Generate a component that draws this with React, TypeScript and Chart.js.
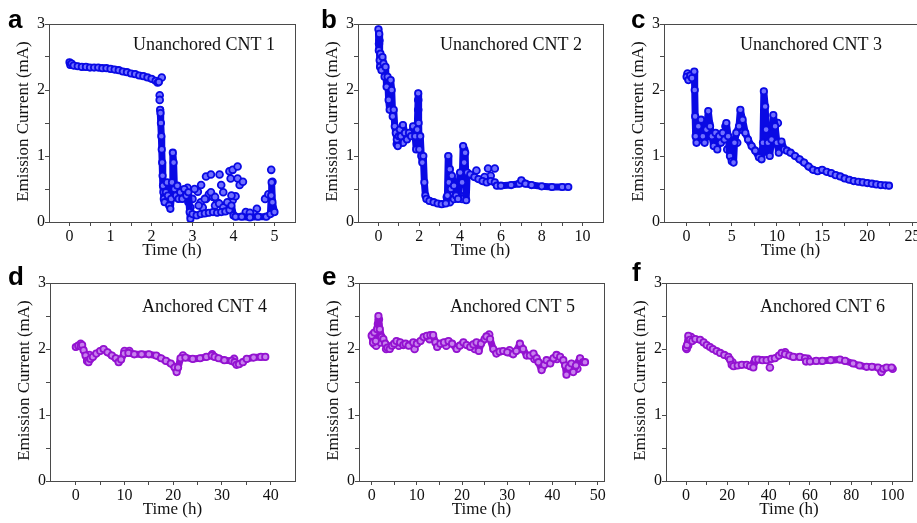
import React, { useEffect, useRef } from "react";
import { Chart, registerables } from "chart.js";

Chart.register(...registerables);

// ---------------- Data (time in h, emission current in mA) ----------------
// Panel a – Unanchored CNT 1
const timeA1 = [0, 0.02, 0.05, 0.1, 0.2, 0.3, 0.4, 0.5, 0.6, 0.7, 0.8, 0.9, 1.0, 1.1, 1.2, 1.3, 1.4, 1.5, 1.6, 1.7, 1.8, 1.9, 2.0, 2.1, 2.15, 2.18];
const currentA1 = [2.42, 2.38, 2.40, 2.37, 2.36, 2.35, 2.35, 2.34, 2.34, 2.34, 2.33, 2.33, 2.32, 2.31, 2.30, 2.28, 2.27, 2.25, 2.24, 2.22, 2.21, 2.19, 2.17, 2.14, 2.11, 2.12];
const timeA2 = [2.21, 2.22, 2.23, 2.24, 2.25, 2.26, 2.27, 2.28, 2.29, 2.3, 2.32, 2.35, 2.38, 2.4, 2.43, 2.46, 2.48, 2.5, 2.52, 2.54, 2.56, 2.6, 2.63, 2.66, 2.7, 2.75, 2.8, 2.85, 2.9, 2.93, 2.95, 3.0, 3.1, 3.2, 3.3, 3.4, 3.5, 3.6, 3.7, 3.8, 3.9, 3.95, 4.0, 4.05, 4.2, 4.4, 4.6, 4.8, 4.9, 4.92, 4.93, 4.95, 5.0];
const currentA2 = [1.70, 1.65, 1.50, 1.30, 1.10, 0.90, 0.70, 0.55, 0.45, 0.35, 0.30, 0.45, 0.60, 0.40, 0.25, 0.20, 0.35, 0.60, 1.05, 0.90, 0.50, 0.40, 0.55, 0.35, 0.45, 0.35, 0.50, 0.40, 0.45, 0.15, 0.05, 0.12, 0.10, 0.12, 0.13, 0.14, 0.15, 0.14, 0.15, 0.16, 0.18, 0.25, 0.10, 0.08, 0.08, 0.07, 0.08, 0.08, 0.12, 0.40, 0.60, 0.30, 0.15];
const extraTimeA = [2.25, 2.2, 2.2, 3.13, 3.21, 3.33, 3.45, 3.33, 3.4, 3.5, 3.6, 3.66, 3.7, 3.55, 3.9, 3.93, 3.98, 3.98, 4.1, 4.1, 4.15, 4.23, 4.05, 4.57, 4.77, 4.85, 4.92, 4.95, 3.2, 3.25, 3.75, 3.8, 3.05, 3.0, 4.3, 4.5, 4.4, 3.15, 3.3, 3.45, 3.55, 3.65, 3.75, 3.85, 3.95, 2.9, 2.95, 2.88];
const extraCurrentA = [2.19, 1.92, 1.85, 0.46, 0.56, 0.69, 0.72, 0.35, 0.42, 0.38, 0.30, 0.72, 0.56, 0.25, 0.77, 0.66, 0.79, 0.33, 0.84, 0.66, 0.56, 0.61, 0.39, 0.20, 0.35, 0.42, 0.79, 0.61, 0.30, 0.22, 0.45, 0.25, 0.50, 0.35, 0.15, 0.12, 0.14, 0.25, 0.35, 0.45, 0.38, 0.28, 0.22, 0.30, 0.40, 0.30, 0.22, 0.52];

// Panel b – Unanchored CNT 2
const timeB = [0, 0.02, 0.04, 0.06, 0.08, 0.1, 0.15, 0.2, 0.25, 0.3, 0.35, 0.4, 0.45, 0.5, 0.55, 0.6, 0.65, 0.7, 0.75, 0.8, 0.85, 0.9, 0.95, 1.0, 1.05, 1.1, 1.2, 1.3, 1.4, 1.5, 1.6, 1.7, 1.8, 1.85, 1.9, 1.95, 1.97, 2.0, 2.05, 2.1, 2.15, 2.2, 2.25, 2.3, 2.35, 2.5, 2.7, 2.9, 3.1, 3.3, 3.38, 3.42, 3.45, 3.5, 3.55, 3.6, 3.7, 3.8, 3.9, 4.0, 4.1, 4.15, 4.2, 4.25, 4.3, 4.35, 4.5, 4.7, 4.9, 5.1, 5.3, 5.5, 5.7, 5.8, 6.0, 6.5, 6.9, 7.0, 7.2, 7.5, 8.0, 8.5, 9.0, 9.3];
const currentB = [2.92, 2.6, 2.85, 2.45, 2.35, 2.55, 2.3, 2.5, 2.4, 2.2, 2.35, 2.05, 2.2, 1.85, 1.7, 2.15, 2.0, 1.6, 1.7, 1.45, 1.35, 1.25, 1.15, 1.3, 1.4, 1.3, 1.47, 1.35, 1.25, 1.35, 1.3, 1.45, 1.3, 1.1, 1.4, 1.95, 1.5, 1.1, 1.3, 1.0, 0.9, 1.0, 0.6, 0.4, 0.35, 0.32, 0.30, 0.28, 0.27, 0.28, 0.4, 1.0, 0.6, 0.8, 0.5, 0.7, 0.55, 0.4, 0.35, 0.75, 0.6, 1.15, 0.9, 1.05, 0.33, 0.75, 0.72, 0.68, 0.65, 0.62, 0.6, 0.62, 0.6, 0.55, 0.55, 0.56, 0.58, 0.63, 0.58, 0.56, 0.54, 0.53, 0.53, 0.53];
const extraTimeB = [5.37, 5.7, 4.8, 3.35, 4.0, 4.1, 0.05, 0.03, 1.95, 1.95, 4.2, 4.22, 1.2, 0.9, 3.5, 3.7, 3.6, 5.5, 5.2];
const extraCurrentB = [0.81, 0.81, 0.78, 0.38, 0.4, 0.35, 2.75, 2.7, 1.85, 1.7, 1.1, 1.05, 1.2, 1.18, 0.3, 0.35, 0.45, 0.7, 0.68];

// Panel c – Unanchored CNT 3
const timeC = [0, 0.2, 0.4, 0.6, 0.85, 0.9, 0.95, 1.0, 1.1, 1.3, 1.6, 1.8, 2.0, 2.2, 2.4, 2.6, 2.8, 3.0, 3.2, 3.4, 3.6, 3.8, 4.0, 4.2, 4.4, 4.6, 4.8, 5.0, 5.2, 5.3, 5.5, 5.8, 5.95, 6.2, 6.5, 6.8, 7.2, 7.6, 8.0, 8.3, 8.45, 8.55, 8.7, 8.8, 9.0, 9.2, 9.4, 9.6, 9.8, 10.0, 10.2, 10.5, 10.8, 11.1, 11.5, 12.0, 12.5, 13.0, 13.5, 14.0, 14.5, 15.0, 15.5, 16.0, 16.5, 17.0, 17.5, 18.0, 18.5, 19.0, 19.5, 20.0, 20.5, 21.0, 21.5, 22.0, 22.4];
const currentC = [2.2, 2.15, 2.22, 2.18, 2.28, 2.0, 1.6, 1.3, 1.2, 1.45, 1.55, 1.3, 1.2, 1.4, 1.68, 1.45, 1.3, 1.15, 1.35, 1.1, 1.3, 1.2, 1.35, 1.25, 1.5, 1.3, 1.0, 0.92, 0.9, 1.2, 1.35, 1.45, 1.7, 1.55, 1.35, 1.25, 1.15, 1.08, 0.98, 0.95, 1.2, 1.98, 1.75, 1.4, 1.2, 1.0, 1.25, 1.62, 1.45, 1.2, 1.05, 1.22, 1.1, 1.08, 1.05, 1.0, 0.95, 0.9, 0.84, 0.79, 0.77, 0.79, 0.76, 0.74, 0.71, 0.69, 0.66, 0.64, 0.62, 0.61, 0.6, 0.59, 0.58, 0.57, 0.56, 0.555, 0.55];
const extraTimeC = [1.2, 1.5, 2.5, 3.0, 3.5, 4.5, 5.0, 5.6, 6.1, 8.6, 8.65, 9.1, 9.7, 10.1, 0.1, 0.3, 8.4, 4.3, 2.3];
const extraCurrentC = [1.35, 1.25, 1.5, 1.3, 1.25, 1.1, 1.1, 1.2, 1.4, 1.5, 1.3, 1.35, 1.3, 1.5, 2.25, 2.2, 1.05, 1.45, 1.3];

// Panel d – Anchored CNT 4
const timeD = [0, 0.5, 1.0, 1.3, 1.6, 2.0, 2.3, 2.6, 3.0, 3.5, 4.2, 5.0, 5.7, 6.5, 7.4, 8.2, 8.8, 9.3, 9.9, 10.8, 12, 13.5, 15, 16.5, 17.5, 18.5, 19.5, 20.3, 20.7, 21.0, 21.5, 22.5, 24, 25.5, 26.8, 27.9, 28.5, 29.3, 30.5, 32.0, 32.6, 33.0, 33.5, 34.3, 35.1, 36.5, 38, 38.9];
const currentD = [2.03, 2.05, 2.04, 2.06, 1.98, 1.9, 1.82, 1.8, 1.85, 1.88, 1.93, 1.97, 2.0, 1.95, 1.9, 1.86, 1.8, 1.84, 1.93, 1.94, 1.92, 1.92, 1.92, 1.9, 1.86, 1.82, 1.78, 1.72, 1.65, 1.72, 1.86, 1.87, 1.85, 1.86, 1.88, 1.9, 1.88, 1.86, 1.83, 1.82, 1.8, 1.76, 1.77, 1.8, 1.85, 1.87, 1.88, 1.88];
const extraTimeD = [1.0, 2.8, 10.0, 11.0, 22.0, 28.0, 32.5];
const extraCurrentD = [2.08, 1.91, 1.97, 1.97, 1.9, 1.92, 1.85];

// Panel e – Anchored CNT 5
const timeE = [0, 0.3, 0.6, 0.9, 1.2, 1.5, 1.8, 2.2, 2.6, 3.0, 3.5, 4.0, 4.5, 5.0, 5.5, 6.3, 7.0, 7.5, 8.2, 9.2, 10, 10.8, 11.5, 12.2, 13.0, 13.6, 14.1, 14.5, 15.2, 16.0, 17.0, 17.8, 18.8, 19.5, 20.3, 21.0, 21.8, 22.5, 23.2, 23.7, 24.2, 25.0, 25.4, 26.2, 26.9, 27.6, 28.3, 29.1, 30.0, 31.3, 32.0, 32.8, 33.5, 34.3, 35.0, 35.8, 36.5, 36.9, 37.6, 38.2, 38.7, 39.5, 40.2, 40.9, 41.7, 42.4, 42.8, 43.1, 43.6, 44.2, 44.6, 45.2, 46.1, 46.8, 47.2];
const currentE = [2.2, 2.1, 2.25, 2.12, 2.3, 2.5, 2.3, 2.18, 2.15, 2.08, 2.02, 2.0, 2.05, 2.08, 2.12, 2.1, 2.06, 2.08, 2.05, 2.1, 2.08, 2.12, 2.18, 2.2, 2.21, 2.21, 2.1, 2.03, 2.08, 2.1, 2.12, 2.08, 2.0, 2.05, 2.1, 2.06, 2.03, 2.07, 2.1, 1.97, 2.08, 2.15, 2.19, 2.15, 2.0, 1.93, 1.96, 1.97, 1.95, 1.92, 1.97, 2.08, 2.0, 1.9, 1.9, 1.93, 1.86, 1.8, 1.68, 1.76, 1.83, 1.78, 1.86, 1.91, 1.88, 1.83, 1.75, 1.61, 1.72, 1.78, 1.65, 1.75, 1.86, 1.8, 1.8];
const extraTimeE = [0.2, 0.5, 0.8, 1.0, 1.4, 1.6, 2.0, 3.2, 6.0, 9.5, 12.8, 16.5, 22.8, 26.0, 30.5, 33.0, 36.0, 41.0, 45.5];
const extraCurrentE = [2.22, 2.08, 2.2, 2.05, 2.38, 2.45, 2.1, 2.0, 2.05, 2.0, 2.15, 2.05, 2.0, 2.22, 1.98, 2.0, 1.85, 1.85, 1.7];

// Panel f – Anchored CNT 6
const timeF = [0, 0.5, 1.1, 1.9, 3, 4.5, 6.8, 8.5, 10, 11.6, 13, 14.8, 16.5, 18.5, 20.5, 21.3, 22.1, 23, 25, 27, 29.4, 31, 32.6, 33.4, 35, 37, 39, 41.3, 43, 45, 46.3, 47.9, 50, 51.9, 55.1, 57.6, 58.1, 60, 63, 66, 70, 74.5, 77, 80.9, 84, 87.4, 90, 93, 94.6, 95.5, 97.1, 99.5];
const currentF = [2.02, 2.06, 2.2, 2.14, 2.12, 2.15, 2.14, 2.1, 2.06, 2.03, 2.0, 1.97, 1.94, 1.91, 1.88, 1.84, 1.76, 1.74, 1.75, 1.76, 1.76, 1.74, 1.72, 1.84, 1.84, 1.83, 1.83, 1.85, 1.86, 1.9, 1.94, 1.92, 1.9, 1.88, 1.88, 1.86, 1.81, 1.81, 1.82, 1.82, 1.83, 1.84, 1.82, 1.78, 1.75, 1.73, 1.73, 1.72, 1.65, 1.7, 1.72, 1.72];
const extraTimeF = [40.6, 1.0, 0.3, 2.5, 22.5, 33.0, 48, 59, 95, 100];
const extraCurrentF = [1.72, 2.05, 2.0, 2.18, 1.8, 1.8, 1.95, 1.85, 1.68, 1.7];

// Tick values
const yTicks = [0, 0.5, 1, 1.5, 2, 2.5, 3];
const yMajor = [0, 1, 2, 3];
const xTicksA = [0, 0.5, 1, 1.5, 2, 2.5, 3, 3.5, 4, 4.5, 5];
const xMajorA = [0, 1, 2, 3, 4, 5];
const xTicksB = [0, 1, 2, 3, 4, 5, 6, 7, 8, 9, 10];
const xMajorB = [0, 2, 4, 6, 8, 10];
const xTicksC = [0, 2.5, 5, 7.5, 10, 12.5, 15, 17.5, 20, 22.5, 25];
const xMajorC = [0, 5, 10, 15, 20, 25];
const xTicksD = [0, 5, 10, 15, 20, 25, 30, 35, 40];
const xMajorD = [0, 10, 20, 30, 40];
const xTicksE = [0, 5, 10, 15, 20, 25, 30, 35, 40, 45, 50];
const xMajorE = [0, 10, 20, 30, 40, 50];
const xTicksF = [0, 10, 20, 30, 40, 50, 60, 70, 80, 90, 100];
const xMajorF = [0, 20, 40, 60, 80, 100];

const labelA = "Unanchored CNT 1";
const labelB = "Unanchored CNT 2";
const labelC = "Unanchored CNT 3";
const labelD = "Anchored CNT 4";
const labelE = "Anchored CNT 5";
const labelF = "Anchored CNT 6";
const yTitle = "Emission Current (mA)";
const xTitle = "Time (h)";

// ---------------- Styling / layout ----------------
const H = 523;
const YW = 45;
const XH = 24;
const AXIS = "#4a4a4a";
const TEXT = "#111111";
const SERIF = '"Liberation Serif", "Times New Roman", serif';
const SANS = '"Liberation Sans", Arial, sans-serif';
const BLUE = "#0a0ae4";
const BLUE_FILL = "#7070ff";
const PURPLE = "#9312d0";
const PURPLE_FILL = "#c880ee";

type Series = { x: number[]; y: number[] };
type PanelCfg = {
  letter: string;
  label: string;
  lines: Series[];
  extras: Series;
  xMin: number;
  xMax: number;
  xTicks: number[];
  xMajor: number[];
  color: string;
  fill: string;
  plot: { left: number; right: number; top: number; bottom: number };
  canvasW: number;
  letterPos: [number, number];
  labelPos: [number, number];
};

const zip = (xs: number[], ys: number[]) =>
  xs.slice(0, Math.min(xs.length, ys.length)).map((x, i) => ({ x, y: ys[i] }));

const panels: PanelCfg[] = [
  {
    letter: "a", label: labelA,
    lines: [{ x: timeA1, y: currentA1 }, { x: timeA2, y: currentA2 }],
    extras: { x: extraTimeA, y: extraCurrentA },
    xMin: -0.5, xMax: 5.5, xTicks: xTicksA, xMajor: xMajorA,
    color: BLUE, fill: BLUE_FILL,
    plot: { left: 49, right: 295, top: 24, bottom: 222 },
    canvasW: 917, letterPos: [8, 28], labelPos: [275, 50],
  },
  {
    letter: "b", label: labelB,
    lines: [{ x: timeB, y: currentB }],
    extras: { x: extraTimeB, y: extraCurrentB },
    xMin: -1, xMax: 11, xTicks: xTicksB, xMajor: xMajorB,
    color: BLUE, fill: BLUE_FILL,
    plot: { left: 358, right: 603, top: 24, bottom: 222 },
    canvasW: 917, letterPos: [321, 28], labelPos: [582, 50],
  },
  {
    letter: "c", label: labelC,
    lines: [{ x: timeC, y: currentC }],
    extras: { x: extraTimeC, y: extraCurrentC },
    xMin: -2.5, xMax: 25.5, xTicks: xTicksC, xMajor: xMajorC,
    color: BLUE, fill: BLUE_FILL,
    plot: { left: 664, right: 917, top: 24, bottom: 222 },
    canvasW: 935, letterPos: [631, 28], labelPos: [882, 50],
  },
  {
    letter: "d", label: labelD,
    lines: [{ x: timeD, y: currentD }],
    extras: { x: extraTimeD, y: extraCurrentD },
    xMin: -5.3, xMax: 45, xTicks: xTicksD, xMajor: xMajorD,
    color: PURPLE, fill: PURPLE_FILL,
    plot: { left: 50, right: 295, top: 283, bottom: 481 },
    canvasW: 917, letterPos: [8, 285], labelPos: [267, 312],
  },
  {
    letter: "e", label: labelE,
    lines: [{ x: timeE, y: currentE }],
    extras: { x: extraTimeE, y: extraCurrentE },
    xMin: -2.8, xMax: 51.4, xTicks: xTicksE, xMajor: xMajorE,
    color: PURPLE, fill: PURPLE_FILL,
    plot: { left: 359, right: 604, top: 283, bottom: 481 },
    canvasW: 917, letterPos: [322, 285], labelPos: [575, 312],
  },
  {
    letter: "f", label: labelF,
    lines: [{ x: timeF, y: currentF }],
    extras: { x: extraTimeF, y: extraCurrentF },
    xMin: -9.7, xMax: 109.3, xTicks: xTicksF, xMajor: xMajorF,
    color: PURPLE, fill: PURPLE_FILL,
    plot: { left: 666, right: 912, top: 283, bottom: 481 },
    canvasW: 917, letterPos: [632, 281], labelPos: [885, 312],
  },
];

const overlay = (p: PanelCfg) => ({
  id: "overlay" + p.letter,
  afterDraw(chart: any) {
    const { ctx, chartArea: ca } = chart;
    ctx.save();
    ctx.strokeStyle = AXIS;
    ctx.lineWidth = 1;
    const l = Math.round(ca.left) + 0.5;
    const t = Math.round(ca.top) + 0.5;
    const r = Math.round(ca.right) + 0.5;
    const b = Math.round(ca.bottom) + 0.5;
    ctx.strokeRect(l, t, r - l, b - t);

    ctx.fillStyle = "#000";
    ctx.textBaseline = "alphabetic";
    ctx.textAlign = "left";
    ctx.font = `bold 26px ${SANS}`;
    ctx.fillText(p.letter, p.letterPos[0], p.letterPos[1]);

    ctx.fillStyle = TEXT;
    ctx.font = `18px ${SERIF}`;
    ctx.textAlign = "right";
    ctx.fillText(p.label, p.labelPos[0], p.labelPos[1]);

    ctx.font = `17px ${SERIF}`;
    ctx.textAlign = "center";
    ctx.fillText(xTitle, (ca.left + ca.right) / 2, ca.bottom + 33);

    ctx.translate(ca.left - 25, (ca.top + ca.bottom) / 2 - 1.5);
    ctx.rotate(-Math.PI / 2);
    ctx.textBaseline = "middle";
    ctx.fillText(yTitle, 0, 0);
    ctx.restore();
  },
});

function Panel({ p }: { p: PanelCfg }) {
  const ref = useRef<HTMLCanvasElement>(null);
  useEffect(() => {
    const canvas = ref.current;
    if (!canvas) return;
    const pointStyle = {
      pointRadius: 3.2,
      pointBorderWidth: 1.8,
      pointBorderColor: p.color,
      pointBackgroundColor: p.fill,
      pointHoverRadius: 3.2,
    };
    const datasets: any[] = [
      ...p.lines.map((s) => ({
        data: zip(s.x, s.y),
        showLine: true,
        borderColor: p.color,
        borderWidth: 7,
        borderJoinStyle: "round",
        borderCapStyle: "round",
        tension: 0,
        ...pointStyle,
      })),
      {
        data: zip(p.extras.x, p.extras.y),
        showLine: false,
        ...pointStyle,
        pointRadius: 3.4,
      },
    ];
    const tickFont = { family: SERIF, size: 16 };
    const chart = new Chart(canvas, {
      type: "scatter",
      data: { datasets },
      options: {
        animation: false,
        responsive: false,
        devicePixelRatio: 1,
        events: [],
        layout: {
          padding: {
            left: p.plot.left - YW,
            right: p.canvasW - p.plot.right,
            top: p.plot.top,
            bottom: H - p.plot.bottom - XH,
          },
        },
        plugins: { legend: { display: false }, tooltip: { enabled: false } },
        scales: {
          x: {
            type: "linear",
            position: "bottom",
            min: p.xMin,
            max: p.xMax,
            afterBuildTicks: (s: any) => {
              s.ticks = p.xTicks.map((v) => ({ value: v }));
            },
            afterFit: (s: any) => {
              s.height = XH;
            },
            ticks: {
              autoSkip: false,
              maxRotation: 0,
              minRotation: 0,
              padding: 1,
              color: TEXT,
              font: tickFont,
              callback: (v: any) => (p.xMajor.includes(Number(v)) ? String(v) : ""),
            },
            grid: { drawOnChartArea: false, drawTicks: true, tickLength: 4, color: AXIS, lineWidth: 1 },
            border: { display: false },
          },
          y: {
            type: "linear",
            position: "left",
            min: 0,
            max: 3,
            afterBuildTicks: (s: any) => {
              s.ticks = yTicks.map((v) => ({ value: v }));
            },
            afterFit: (s: any) => {
              s.width = YW;
            },
            ticks: {
              autoSkip: false,
              padding: 0,
              color: TEXT,
              font: tickFont,
              callback: (v: any) => (yMajor.includes(Number(v)) ? String(v) : ""),
            },
            grid: { drawOnChartArea: false, drawTicks: true, tickLength: 4, color: AXIS, lineWidth: 1 },
            border: { display: false },
          },
        },
      } as any,
      plugins: [overlay(p)],
    });
    return () => chart.destroy();
  }, [p]);
  return (
    <canvas
      ref={ref}
      width={p.canvasW}
      height={H}
      style={{ position: "absolute", left: 0, top: 0, width: p.canvasW, height: H }}
    />
  );
}

export default function App() {
  return (
    <div
      style={{
        position: "fixed",
        left: 0,
        top: 0,
        width: 917,
        height: H,
        overflow: "hidden",
        background: "#ffffff",
      }}
    >
      {panels.map((p) => (
        <Panel key={p.letter} p={p} />
      ))}
    </div>
  );
}
